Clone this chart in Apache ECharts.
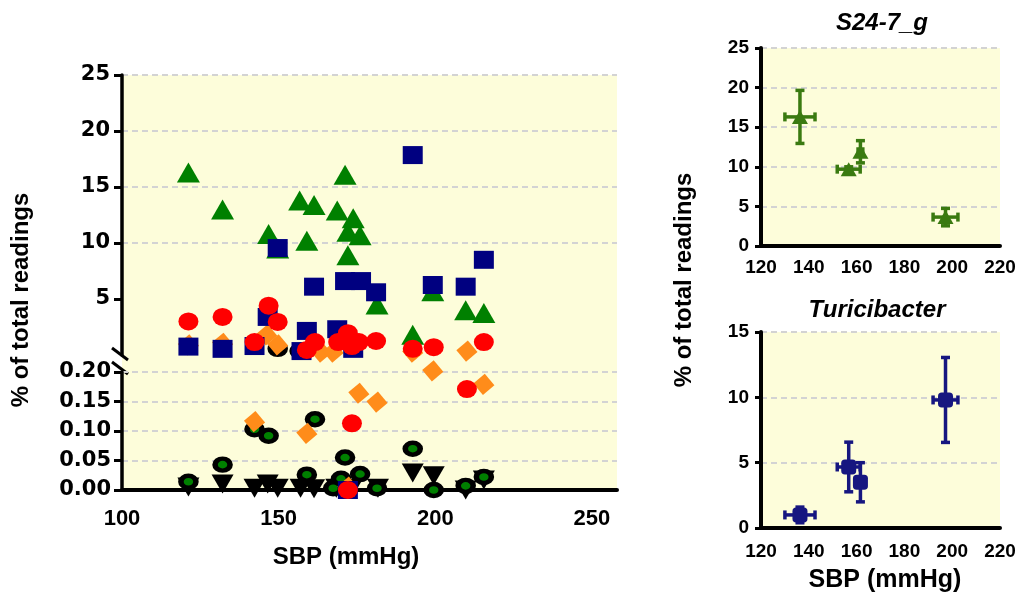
<!DOCTYPE html>
<html><head><meta charset="utf-8">
<script src="https://cdn.jsdelivr.net/npm/echarts@6/dist/echarts.min.js"></script>
<style>html,body{margin:0;padding:0;background:#fff}#c{width:1025px;height:597px}</style>
</head><body><div id="c"></div>
<script>
// ---------- main scatter data: [SBP (mmHg), % of total readings] ----------
const s24Points = [[121.2,16.3],[132.1,13.0],[146.8,10.8],[149.7,9.5],[156.7,13.8],[161.3,13.4],[159.0,10.2],
  [171.2,16.1],[168.7,12.9],[173.8,12.2],[172.1,11.0],[176.0,10.7],[172.1,8.9],[181.4,4.5],[192.8,1.8],
  [199.2,5.7],[209.7,4.0],[215.5,3.75]];
const turiPoints = [[121.2,0.75],[132.1,0.55],[142.3,0.8],[146.5,3.4],[149.7,9.55],[161.3,6.1],[159.0,2.15],
  [157.3,0.35],[168.7,2.3],[171.2,6.6],[176.3,6.6],[181.1,5.6],[173.8,0.55],[192.8,17.85],[199.2,6.25],
  [209.7,6.1],[215.5,8.5],[172.1,0.0]];
const redPoints = [[121.2,3.0],[132.1,3.4],[146.8,4.4],[149.7,2.95],[142.3,1.15],[161.6,1.15],[159.0,0.45],
  [172.1,1.95],[169.0,1.15],[175.6,1.15],[173.4,0.8],[181.1,1.25],[192.8,0.55],[199.5,0.7],[215.5,1.15],
  [173.4,0.113],[172.1,0.0],[210.1,0.171]];
const orangePoints = [[121.2,0.9],[132.1,1.05],[146.2,1.8],[149.7,0.9],[163.5,0.25],[167.4,0.25],[210.1,0.35],
  [192.8,0.25],[142.3,0.116],[159.0,0.096],[175.6,0.164],[181.4,0.149],[199.2,0.202],[215.5,0.179],[172.1,0.005]];
const darkCirclePoints = [[149.7,0.55],[156.7,0.35],[121.2,0.014],[132.1,0.043],[142.3,0.103],[146.8,0.092],
  [161.6,0.120],[159.0,0.026],[171.2,0.055],[176.0,0.027],[169.9,0.019],[167.4,0.003],[181.4,0.003],
  [192.8,0.070],[199.5,0.0],[209.7,0.007],[215.5,0.022]];
const invTriPoints = [[121.2,0.005],[132.1,0.010],[142.3,0.003],[146.5,0.010],[149.7,0.003],[157.0,0.003],
  [161.3,0.002],[168.4,0.003],[173.4,0.003],[181.7,0.003],[192.8,0.029],[199.5,0.024],[209.7,0.0],[215.5,0.017]];

// ---------- tick labels ----------
const mainXTicks = [100,150,200,250];
const mainTopTicks = [5,10,15,20,25];
const mainBottomTicks = [0,0.05,0.10,0.15,0.20];
const breakValue = 0.205;

// ---------- group means (right panels) ----------
const groupSBP = [136.3,156.7,161.6,197.2];
const groupSBPerr = [6.3,4.8,1.0,5.2];
const s24Mean = [16.3,9.7,11.9,3.65];
const s24Err = [3.35,0.3,1.4,1.1];
const turiMean = [1.0,4.67,3.5,9.8];
const turiErr = [0.6,1.9,1.5,3.25];

const FONT = "'Liberation Sans', Arial, sans-serif";
const WIDEFONT = "'DejaVu Sans', Verdana, sans-serif";
const BG = '#fdfdda';
const gridLine = {show:true,showMinLine:false,lineStyle:{color:'#d3d3d3',type:[6,4],width:2}};

const chart = echarts.init(document.getElementById('c'));

const cats = [
  {pts:invTriPoints, symbol:'triangle', size:[22,19], rotate:180, style:{color:'#000000',opacity:1}},
  {pts:darkCirclePoints, symbol:'circle', size:[15,12], rotate:0, style:{color:'#008000',borderColor:'#000000',borderWidth:5,opacity:1}},
  {pts:s24Points, symbol:'triangle', size:[23,20], rotate:0, style:{color:'#008000',opacity:1}},
  {pts:orangePoints, symbol:'rect', size:[15,15], rotate:40, style:{color:'#ff8c1a',opacity:1}},
  {pts:turiPoints, symbol:'rect', size:[20,18], rotate:0, style:{color:'#000080',opacity:1}},
  {pts:redPoints, symbol:'circle', size:[20,18], rotate:0, style:{color:'#ff0000',opacity:1}}
];
const series = [];
cats.forEach(c => {
  const top = c.pts.filter(p => p[1] > breakValue);
  const bot = c.pts.filter(p => p[1] <= breakValue);
  [[top,0],[bot,1]].forEach(([d,idx]) => {
    series.push({type:'scatter',xAxisIndex:idx,yAxisIndex:idx,data:d,symbol:c.symbol,
      symbolSize:c.size,symbolRotate:c.rotate,itemStyle:c.style,clip:false,silent:true});
  });
});

function errRender(color){
  return function(params, api){
    const x=api.value(0), y=api.value(1), ex=api.value(2), ey=api.value(3);
    const c=api.coord([x,y]);
    const l=api.coord([x-ex,y]), r=api.coord([x+ex,y]);
    const t=api.coord([x,y+ey]), b=api.coord([x,y-ey]);
    const cap=4.5;
    const st={stroke:color,lineWidth:3.5};
    const ln=(x1,y1,x2,y2)=>({type:'line',shape:{x1,y1,x2,y2},style:st});
    return {type:'group',children:[
      ln(l[0],c[1],r[0],c[1]), ln(l[0],c[1]-cap,l[0],c[1]+cap), ln(r[0],c[1]-cap,r[0],c[1]+cap),
      ln(c[0],t[1],c[0],b[1]), ln(c[0]-cap,t[1],c[0]+cap,t[1]), ln(c[0]-cap,b[1],c[0]+cap,b[1])
    ]};
  };
}
const S24C = '#3a7a10', TURC = '#161680';
series.push({type:'custom',xAxisIndex:2,yAxisIndex:2,renderItem:errRender(S24C),silent:true,
  data:groupSBP.map((x,i)=>[x,s24Mean[i],groupSBPerr[i],s24Err[i]])});
series.push({type:'scatter',xAxisIndex:2,yAxisIndex:2,symbol:'triangle',symbolSize:[16,14],
  itemStyle:{color:S24C,opacity:1},data:groupSBP.map((x,i)=>[x,s24Mean[i]]),silent:true});
series.push({type:'custom',xAxisIndex:3,yAxisIndex:3,renderItem:errRender(TURC),silent:true,
  data:groupSBP.map((x,i)=>[x,turiMean[i],groupSBPerr[i],turiErr[i]])});
series.push({type:'scatter',xAxisIndex:3,yAxisIndex:3,symbol:'roundRect',symbolSize:[15,15],
  itemStyle:{color:TURC,opacity:1},data:groupSBP.map((x,i)=>[x,turiMean[i]]),silent:true});

const lbl = (size, extra) => Object.assign({color:'#000',fontFamily:FONT,fontWeight:'bold',fontSize:size}, extra||{});

const option = {
  animation:false,
  backgroundColor:'#ffffff',
  grid:[
    {left:122,top:75,width:495,height:280,show:true,backgroundColor:BG,borderWidth:0},
    {left:122,top:372,width:495,height:118,show:true,backgroundColor:BG,borderWidth:0},
    {left:761,top:48,width:239,height:198,show:true,backgroundColor:BG,borderWidth:0},
    {left:761,top:332,width:239,height:196,show:true,backgroundColor:BG,borderWidth:0}
  ],
  xAxis:[
    {gridIndex:0,type:'value',min:100,max:258,show:false},
    {gridIndex:1,type:'value',min:100,max:258,interval:50,
      axisLine:{lineStyle:{color:'#000',width:4}},axisTick:{show:false},splitLine:{show:false},
      axisLabel:lbl(22,{margin:18,customValues:mainXTicks})},
    {gridIndex:2,type:'value',min:120,max:220,interval:20,
      axisLine:{onZero:false,lineStyle:{color:'#000',width:4}},axisTick:{show:false},splitLine:{show:false},
      axisLabel:lbl(19,{margin:12})},
    {gridIndex:3,type:'value',min:120,max:220,interval:20,
      axisLine:{onZero:false,lineStyle:{color:'#000',width:4}},axisTick:{show:false},splitLine:{show:false},
      axisLabel:lbl(19,{margin:14})}
  ],
  yAxis:[
    {gridIndex:0,type:'value',min:0,max:25,interval:5,
      axisLine:{show:true,lineStyle:{color:'#000',width:3.5}},
      axisTick:{show:true,length:8,customValues:mainTopTicks,lineStyle:{color:'#000',width:3}},
      axisLabel:lbl(21,{fontFamily:WIDEFONT,margin:12,customValues:mainTopTicks}),splitLine:gridLine},
    {gridIndex:1,type:'value',min:0,max:0.2,interval:0.05,
      axisLine:{show:true,lineStyle:{color:'#000',width:3.5}},
      axisTick:{show:true,length:8,lineStyle:{color:'#000',width:3}},
      axisLabel:lbl(21,{fontFamily:WIDEFONT,margin:11,formatter:v=>v.toFixed(2),customValues:mainBottomTicks}),splitLine:gridLine},
    {gridIndex:2,type:'value',min:0,max:25,interval:5,
      axisLine:{show:true,lineStyle:{color:'#000',width:4}},
      axisTick:{show:true,length:6,lineStyle:{color:'#000',width:3}},
      axisLabel:lbl(19,{margin:12}),splitLine:gridLine},
    {gridIndex:3,type:'value',min:0,max:15,interval:5,
      axisLine:{show:true,lineStyle:{color:'#000',width:4}},
      axisTick:{show:true,length:6,lineStyle:{color:'#000',width:3}},
      axisLabel:lbl(19,{margin:12}),splitLine:gridLine}
  ],
  graphic:[
    {type:'rect',shape:{x:122,y:355,width:495,height:17},style:{fill:BG},silent:true},
    {type:'line',shape:{x1:112,y1:348,x2:128,y2:360},style:{stroke:'#000',lineWidth:3}},
    {type:'line',shape:{x1:112,y1:362,x2:128,y2:374},style:{stroke:'#000',lineWidth:3}},
    {type:'text',x:21,y:300,rotation:Math.PI/2,style:{text:'% of total readings',font:"bold 24px "+FONT,fill:'#000',align:'center',verticalAlign:'middle'}},
    {type:'text',x:346,y:557,style:{text:'SBP (mmHg)',font:"bold 24px "+FONT,fill:'#000',align:'center',verticalAlign:'middle'}},
    {type:'text',x:684,y:280,rotation:Math.PI/2,style:{text:'% of total readings',font:"bold 24px "+FONT,fill:'#000',align:'center',verticalAlign:'middle'}},
    {type:'text',x:885,y:580,style:{text:'SBP (mmHg)',font:"bold 25px "+FONT,fill:'#000',align:'center',verticalAlign:'middle'}},
    {type:'text',x:882,y:23,style:{text:'S24-7_g',font:"italic bold 24px "+FONT,fill:'#000',align:'center',verticalAlign:'middle'}},
    {type:'text',x:877,y:310,style:{text:'Turicibacter',font:"italic bold 24px "+FONT,fill:'#000',align:'center',verticalAlign:'middle'}}
  ],
  series:series
};
chart.setOption(option);
</script></body></html>
